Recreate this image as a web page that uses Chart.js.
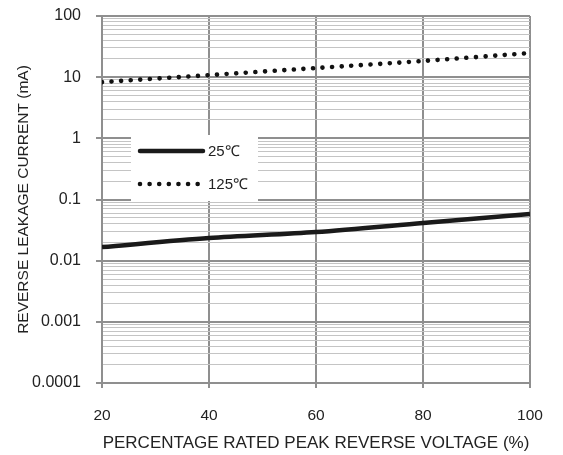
<!DOCTYPE html>
<html>
<head>
<meta charset="utf-8">
<script src="https://cdn.jsdelivr.net/npm/chart.js@4.4.1/dist/chart.umd.min.js"></script>
<style>
  html, body { margin: 0; padding: 0; background: #fff; }
  #wrap { width: 563px; height: 455px; position: relative; }
</style>
</head>
<body>
<div id="wrap"><canvas id="leakChart" width="563" height="455"></canvas></div>
<script>
// values
var voltagePct = [20, 40, 60, 80, 100];
var current25 = [0.0167, 0.0234, 0.0294, 0.0413, 0.058];
var current125 = [8.3, 10.8, 14.1, 18.4, 24.8];
var seriesLabels = ['25\u2103', '125\u2103'];
var yTickLabels = ['0.0001', '0.001', '0.01', '0.1', '1', '10', '100'];
var xTicks = [20, 40, 60, 80, 100];

var FONT = '"Liberation Sans", Arial, sans-serif';

function toPoints(xs, ys) {
	var pts = [];
	for (var i = 0; i < xs.length; i++) {
		pts.push({ x: xs[i], y: ys[i] });
	}
	return pts;
}

function isDecade(v) {
	var l = Math.log10(v);
	return Math.abs(l - Math.round(l)) < 1e-6;
}

// legend box sitting inside the plot, like the original
var insideLegend = {
	id: 'insideLegend',
	afterDraw: function(chart) {
		var ctx = chart.ctx;
		var area = chart.chartArea;
		var bx = area.left + 29, by = area.top + 119, bw = 127, bh = 66;
		ctx.save();
		ctx.fillStyle = '#ffffff';
		ctx.fillRect(bx, by, bw, bh);
		chart.data.datasets.forEach(function(ds, i) {
			var ly = by + 16 + i * 33;
			ctx.beginPath();
			ctx.strokeStyle = ds.borderColor;
			ctx.lineWidth = ds.borderWidth;
			ctx.lineCap = 'round';
			ctx.setLineDash(ds.borderDash || []);
			ctx.moveTo(bx + 9, ly);
			ctx.lineTo(bx + 72, ly);
			ctx.stroke();
			ctx.setLineDash([]);
			ctx.fillStyle = '#222';
			ctx.font = '15px ' + FONT;
			ctx.textBaseline = 'middle';
			ctx.fillText(ds.label, bx + 77, ly + 1);
		});
		ctx.restore();
	}
};

var chart = new Chart(document.getElementById('leakChart'), {
	type: 'line',
	data: {
		datasets: [ {
			label: seriesLabels[0],
			data: toPoints(voltagePct, current25),
			borderColor: '#1a1a1a',
			borderWidth: 4.5,
			pointRadius: 0,
			tension: 0.3,
			borderCapStyle: 'butt'
		}, {
			label: seriesLabels[1],
			data: toPoints(voltagePct, current125),
			borderColor: '#111111',
			borderWidth: 4.6,
			borderDash: [0.01, 9.6],
			borderCapStyle: 'round',
			pointRadius: 0,
			tension: 0.3
		} ]
	},
	options: {
		responsive: false,
		animation: false,
		layout: { padding: { left: 0, top: 16, right: 33, bottom: 0 } },
		plugins: {
			legend: { display: false },
			tooltip: { enabled: false }
		},
		scales: {
			x: {
				type: 'linear',
				min: 20,
				max: 100,
				afterFit: function(scale) { scale.height = 72; },
				afterBuildTicks: function(scale) {
					scale.ticks = xTicks.map(function(v) { return { value: v }; });
				},
				ticks: {
					color: '#222',
					padding: 18,
					font: { family: FONT, size: 15.5 },
					maxRotation: 0
				},
				grid: {
					color: '#8f8f8f',
					lineWidth: 2,
					tickLength: 5,
					tickColor: '#8f8f8f'
				},
				border: { color: '#8f8f8f', width: 2 },
				title: {
					display: true,
					text: 'PERCENTAGE RATED PEAK REVERSE VOLTAGE (%)',
					color: '#222',
					font: { family: FONT, size: 17 },
					padding: { top: 0, bottom: 1 }
				}
			},
			y: {
				type: 'logarithmic',
				min: 0.0001,
				max: 100,
				afterFit: function(scale) {
					scale.width = 102;
					// labels may overhang the plot edges, don't push the plot in
					scale.paddingTop = 0;
					scale.paddingBottom = 0;
				},
				afterBuildTicks: function(scale) {
					var ticks = [];
					for (var e = -4; e <= 2; e++) {
						for (var m = 1; m <= 9; m++) {
							var v = m * Math.pow(10, e);
							if (v <= 100.0001) ticks.push({ value: v, major: m === 1 });
						}
					}
					scale.ticks = ticks;
				},
				ticks: {
					color: '#222',
					padding: 15,
					autoSkip: false,
					font: { family: FONT, size: 16 },
					callback: function(value) {
						if (!isDecade(value)) return '';
						return yTickLabels[Math.round(Math.log10(value)) + 4];
					}
				},
				grid: {
					color: function(c) {
						return c.tick && isDecade(c.tick.value) ? '#8f8f8f' : '#c4c4c4';
					},
					lineWidth: function(c) {
						return c.tick && isDecade(c.tick.value) ? 2 : 1;
					},
					tickLength: 6,
					tickColor: function(c) {
						return c.tick && isDecade(c.tick.value) ? '#8f8f8f' : 'rgba(0,0,0,0)';
					}
				},
				border: { color: '#8f8f8f', width: 2 },
				title: {
					display: true,
					text: 'REVERSE LEAKAGE CURRENT (mA)',
					color: '#222',
					font: { family: FONT, size: 15.5 },
					padding: { top: 14.5, bottom: 0 }
				}
			}
		}
	},
	plugins: [ insideLegend ]
});
</script>
</body>
</html>
